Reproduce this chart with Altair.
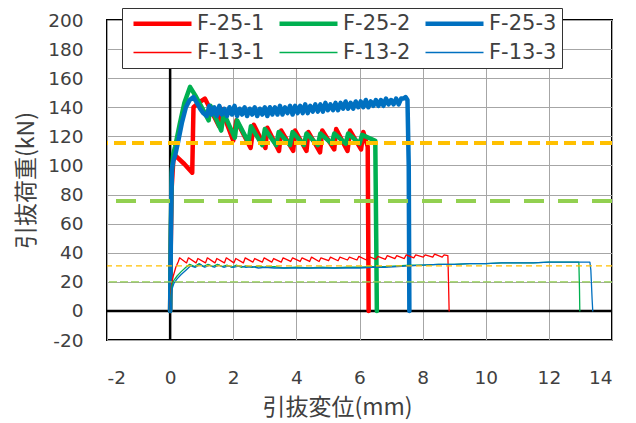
import altair as alt
import pandas as pd

series_names = ["F-25-1", "F-25-2", "F-25-3", "F-13-1", "F-13-2", "F-13-3"]
series_colors = ["#FF0000", "#00B050", "#0070C0", "#FF0000", "#00B050", "#0070C0"]

x_ticks = [-2, 0, 2, 4, 6, 8, 10, 12, 14]
y_ticks = [-20, 0, 20, 40, 60, 80, 100, 120, 140, 160, 180, 200]

# reference levels (kN)
ref_orange_thick = [115.5]
ref_green_thick = [75.5]
ref_orange_thin = [31.0]
ref_green_thin = [20.0]
zero_line = [0]

# F-25-1
x_25_1 = [0, 0.02, 0.05, 0.10, 0.16, 0.45, 0.70, 0.74, 0.90, 1.10, 1.55, 1.62, 2.00, 2.10,
          2.55, 2.65, 3.02, 3.08, 3.45, 3.52, 3.90, 3.96, 4.32, 4.38, 4.75, 4.82, 5.20, 5.26,
          5.62, 5.70, 6.05, 6.12, 6.26, 6.28, 6.29]
y_25_1 = [0, 45, 85, 103, 107, 101, 95, 140, 143, 146, 127, 139, 117, 131,
          112, 128, 112, 126, 110, 124, 110, 124, 110, 123, 109, 124, 111, 125,
          110, 124, 111, 123, 113, 40, 0]

# F-25-2
x_25_2 = [0, 0.02, 0.05, 0.10, 0.16, 0.30, 0.45, 0.63, 0.80, 1.05, 1.22, 1.28, 1.62, 1.70,
          2.05, 2.12, 2.48, 2.56, 2.92, 3.00, 3.36, 3.44, 3.80, 3.88, 4.24, 4.32, 4.68, 4.76,
          5.12, 5.20, 5.56, 5.64, 6.00, 6.08, 6.50, 6.53, 6.55]
y_25_2 = [0, 55, 95, 108, 113, 128, 143, 154, 148, 138, 131, 141, 124, 136,
          119, 131, 116, 127, 114, 125, 114, 123, 114, 123, 114, 122, 114, 122,
          115, 122, 115, 122, 115, 121, 117, 50, 0]

# F-25-3
x_25_3 = [0, 0.02, 0.04, 0.06, 0.10, 0.16, 0.25, 0.37, 0.50, 0.62, 0.74, 0.85, 0.95, 1.05,
          1.16, 1.24, 1.32, 1.40, 1.48, 1.56, 1.64, 1.72, 1.80, 1.88, 1.96, 2.04, 2.12, 2.20,
          2.28, 2.36, 2.44, 2.52, 2.60, 2.68, 2.76, 2.84, 2.92, 3.00, 3.08, 3.16, 3.24, 3.32,
          3.40, 3.48, 3.56, 3.64, 3.72, 3.80, 3.88, 3.96, 4.04, 4.12, 4.20, 4.28, 4.36, 4.44,
          4.52, 4.60, 4.68, 4.76, 4.84, 4.92, 5.00, 5.08, 5.16, 5.24, 5.32, 5.40, 5.48, 5.56,
          5.64, 5.72, 5.80, 5.88, 5.96, 6.04, 6.12, 6.20, 6.28, 6.36, 6.44, 6.52, 6.60, 6.68,
          6.76, 6.84, 6.92, 7.00, 7.08, 7.16, 7.24, 7.32, 7.40, 7.46, 7.52, 7.56, 7.58]
y_25_3 = [0, 40, 80, 98, 103, 107, 116, 129, 140, 145, 147, 143, 139, 136,
          134, 141, 135, 140, 134, 141, 135, 139, 134, 140, 135, 141, 134, 139,
          135, 140, 134, 139, 135, 140, 134, 139, 135, 140, 134, 140, 135, 140,
          135, 141, 135, 140, 136, 141, 135, 141, 136, 141, 136, 142, 136, 141,
          137, 142, 137, 142, 137, 143, 138, 142, 138, 143, 138, 143, 139, 144,
          139, 143, 139, 144, 140, 144, 140, 145, 140, 144, 141, 145, 141, 145,
          141, 146, 142, 145, 142, 146, 142, 146, 146, 147, 145, 100, 0]

# F-13-1
x_13_1 = [0, 0.02, 0.05, 0.10, 0.18, 0.26, 0.30, 0.52, 0.58, 0.82, 0.88, 1.12, 1.18, 1.42, 1.48,
          1.72, 1.78, 2.02, 2.08, 2.32, 2.38, 2.62, 2.68, 2.92, 2.98, 3.22, 3.28, 3.52, 3.58,
          3.82, 3.88, 4.12, 4.18, 4.42, 4.48, 4.72, 4.78, 5.02, 5.08, 5.32, 5.38, 5.62, 5.68,
          5.92, 5.98, 6.22, 6.28, 6.52, 6.58, 6.82, 6.88, 7.12, 7.18, 7.42, 7.48, 7.72, 7.78,
          8.02, 8.08, 8.32, 8.38, 8.62, 8.68, 8.80, 8.82, 8.84]
y_13_1 = [0, 12, 19, 24, 30, 34, 36.5, 33, 36.5, 33, 36, 33, 36.5, 33, 36,
          33, 36.5, 33, 36, 33, 36.5, 33.5, 36, 33.5, 36.5, 33.5, 36, 33.5, 36.5,
          34, 36.5, 34, 36.5, 34, 37, 34, 36.5, 34.5, 37, 34.5, 37, 35, 37,
          35, 37.5, 35, 37.5, 35.5, 37.5, 35.5, 38, 36, 38, 36, 38.5, 36.5, 38.5,
          37, 38.5, 37, 39, 37, 38.5, 38, 20, 0]

# F-13-2
x_13_2 = [0, 0.03, 0.06, 0.12, 0.22, 0.35, 0.50, 0.62, 0.78, 0.92, 1.05, 1.20, 1.35, 1.50, 1.65,
          1.80, 1.95, 2.10, 2.25, 2.40, 2.60, 2.80, 3.0, 3.3, 3.6, 4.0, 4.4, 4.8, 5.2, 5.6,
          6.0, 6.4, 6.8, 7.2, 7.6, 8.0, 8.5, 9.0, 9.5, 10.0, 10.5, 11.0, 11.5, 12.0, 12.5,
          12.95, 12.97, 12.98]
y_13_2 = [0, 12, 18, 21, 24, 27, 30, 32, 30.5, 32.5, 30.5, 32, 30.5, 32, 30.5,
          31.5, 30, 31.5, 30, 31, 30, 31, 30, 30.5, 29.5, 30, 29.5, 30, 29.5, 30,
          30, 30.5, 30.5, 31, 31.5, 31.5, 32, 32, 32.5, 32.5, 33, 33, 33, 33.5, 33.5,
          33.5, 15, 0]

# F-13-3
x_13_3 = [0, 0.03, 0.06, 0.12, 0.22, 0.35, 0.50, 0.65, 0.80, 0.95, 1.10, 1.25, 1.40, 1.55, 1.70,
          1.85, 2.0, 2.2, 2.4, 2.6, 2.8, 3.0, 3.3, 3.6, 4.0, 4.4, 4.8, 5.2, 5.6, 6.0,
          6.4, 6.8, 7.2, 7.6, 8.0, 8.5, 9.0, 9.5, 10.0, 10.5, 11.0, 11.5, 12.0, 12.5, 13.0,
          13.3, 13.33, 13.35, 13.37, 13.39]
y_13_3 = [0, 10, 15, 19, 22, 25, 28, 31, 30, 32, 30, 31.5, 30, 31.5, 30,
          31, 30, 31, 30, 30.5, 29.5, 30, 29.5, 29.5, 29.5, 29.5, 29.5, 29.5, 29.5, 29.5,
          30, 30, 30.5, 31, 31.5, 32, 32, 32.5, 32.5, 33, 33, 33, 33.5, 33.5, 33.5,
          33.5, 28, 18, 8, 0]

all_x = [x_25_1, x_25_2, x_25_3, x_13_1, x_13_2, x_13_3]
all_y = [y_25_1, y_25_2, y_25_3, y_13_1, y_13_2, y_13_3]

rows = []
for name, xs, ys in zip(series_names, all_x, all_y):
    for i, (a, b) in enumerate(zip(xs, ys)):
        rows.append({"series": name, "x": a, "y": b, "i": i})
df = pd.DataFrame(rows)

TEXT = "#404040"
GRID = "#A6A6A6"

x_axis = alt.Axis(values=x_ticks, title="引抜変位(mm)", grid=True, gridColor=GRID, gridWidth=1,
                  domain=False, ticks=False, tickSize=0, labelFont="DejaVu Sans", labelFontSize=18.5,
                  labelColor=TEXT, labelPadding=28, labelExpr="datum.value",
                  titleFont="Noto Sans CJK JP", titleFontSize=23,
                  titleFontWeight="normal", titleColor=TEXT, titleX=230, titleY=67,
                  titleBaseline="middle", titleAlign="center")
y_axis = alt.Axis(values=y_ticks, title="引抜荷重(kN)", grid=True, gridColor=GRID, gridWidth=1,
                  domain=False, ticks=False, tickSize=0, labelFont="DejaVu Sans", labelFontSize=18.5,
                  labelColor=TEXT, labelPadding=24, labelExpr="datum.value",
                  titleFont="Noto Sans CJK JP", titleFontSize=23,
                  titleFontWeight="normal", titleColor=TEXT, titleX=-81, titleY=160, titleAngle=270,
                  titleBaseline="middle", titleAlign="center")

x_scale = alt.Scale(domain=[-2, 14], nice=False, zero=False)
y_scale = alt.Scale(domain=[-20, 200], nice=False, zero=False)
x_enc = alt.X("x:Q", scale=x_scale, axis=x_axis)
y_enc = alt.Y("y:Q", scale=y_scale, axis=y_axis)

legend = alt.Legend(title=None, orient="none", legendX=15, legendY=-12, columns=3,
                    direction="horizontal",
                    symbolType="stroke", symbolSize=3364,
                    symbolStrokeWidth=alt.ExprRef(
                        expr="(datum && datum.value && datum.value[2] === '2') ? 4.5 : 1.3"),
                    labelFont="DejaVu Sans", labelFontSize=21, labelColor=TEXT, labelOffset=24,
                    columnPadding=5, rowPadding=7, padding=5, symbolOffset=25,
                    strokeColor="#333333", fillColor="white", labelLimit=300)

color_enc = alt.Color("series:N", scale=alt.Scale(domain=series_names, range=series_colors),
                      legend=legend)

base = alt.Chart(df)


def series_layer(name, width):
    return base.transform_filter(alt.datum.series == name).mark_line(
        strokeJoin="round", strokeCap="round"
    ).encode(x=x_enc, y=y_enc, order="i:Q", color=color_enc, strokeWidth=alt.value(width))


zero_df = pd.DataFrame({"v": zero_line})
zero_h = alt.Chart(zero_df).mark_rule(color="black", strokeWidth=2.5).encode(
    y=alt.Y("v:Q", scale=y_scale, axis=y_axis))
zero_v = alt.Chart(zero_df).mark_rule(color="black", strokeWidth=2.5).encode(
    x=alt.X("v:Q", scale=x_scale, axis=x_axis))


def ref_rule(vals, color, width, dash):
    return alt.Chart(pd.DataFrame({"v": vals})).mark_rule(
        color=color, strokeWidth=width, strokeDash=dash
    ).encode(y=alt.Y("v:Q", scale=y_scale, axis=y_axis))


layers = [zero_h, zero_v]
for n in series_names[:3]:
    layers.append(series_layer(n, 4.5))
for n in series_names[3:]:
    layers.append(series_layer(n, 1.3))
layers += [
    ref_rule(ref_orange_thick, "#FFC000", 4, [12, 6]),
    ref_rule(ref_green_thick, "#92D050", 4, [20, 14]),
    ref_rule(ref_orange_thin, "#FFC000", 1.3, [6, 4]),
    ref_rule(ref_green_thin, "#92D050", 1.3, [8, 3]),
]

chart = alt.layer(*layers).properties(
    width=505, height=320,
    padding={"left": 99, "top": 12, "right": 16, "bottom": 83},
    autosize=alt.AutoSizeParams(type="none"),
    background="white",
).configure_view(stroke="black", strokeWidth=2)

chart.save("out.html", embed_options={"renderer": "svg", "actions": False})
